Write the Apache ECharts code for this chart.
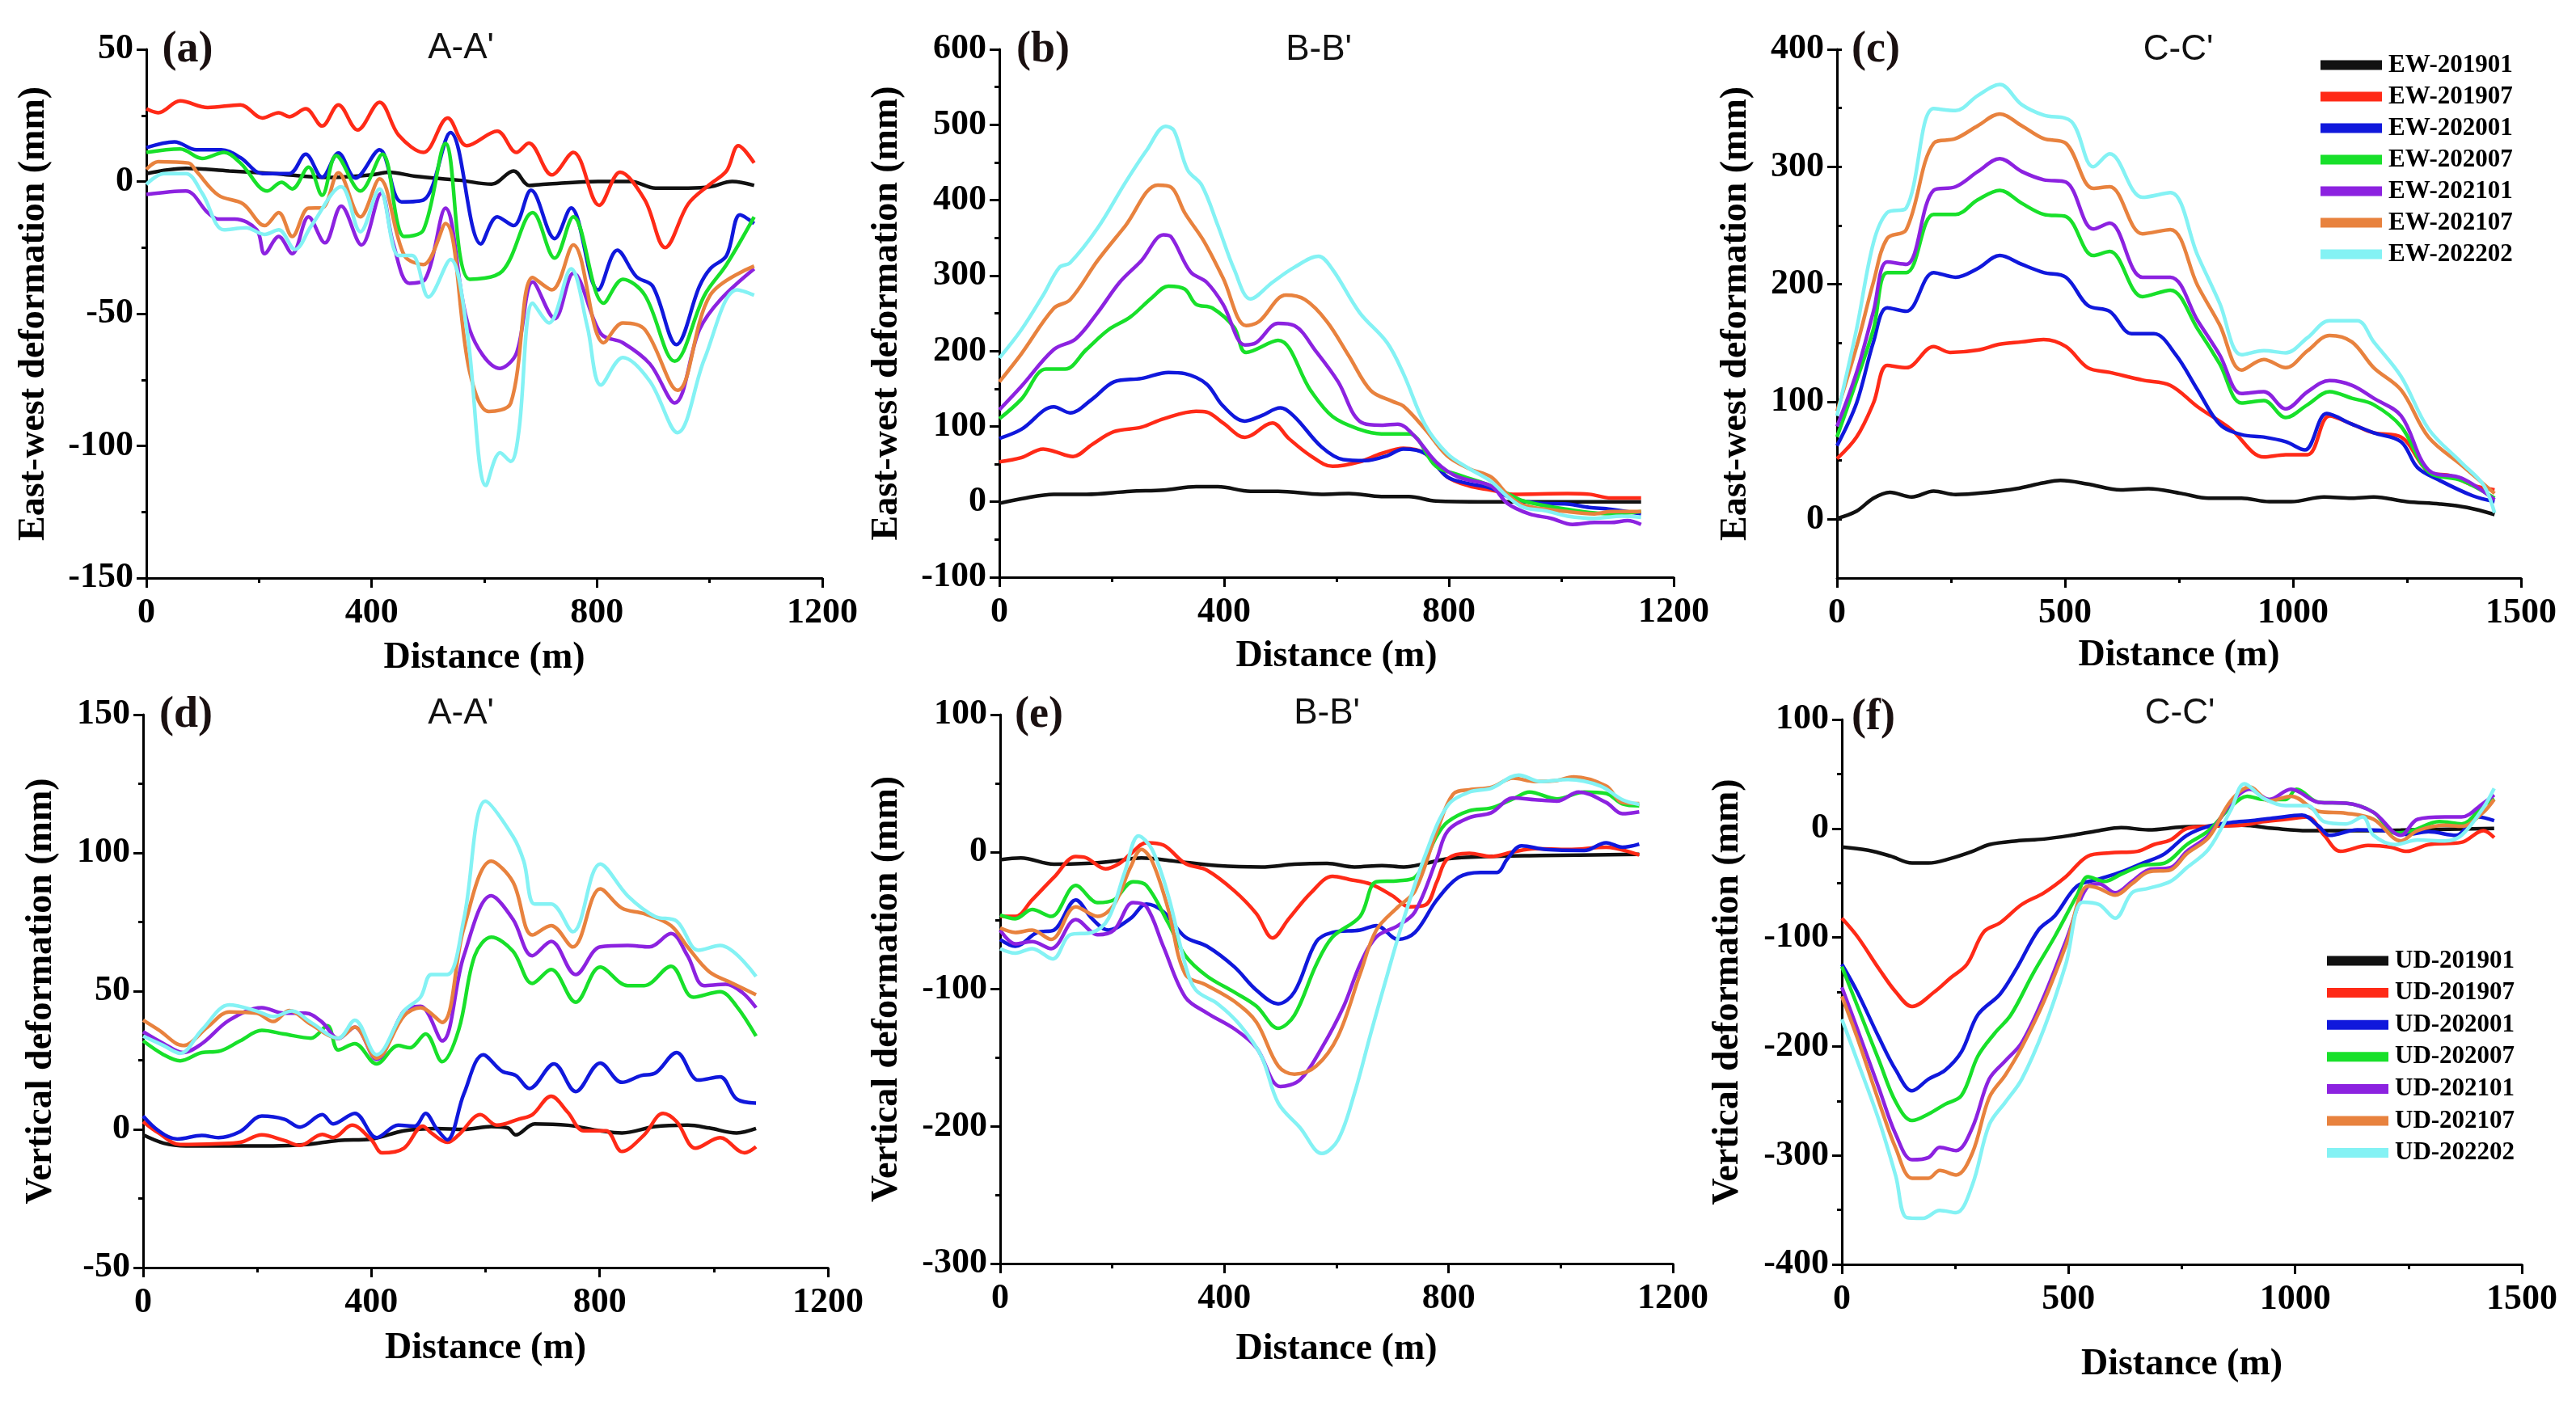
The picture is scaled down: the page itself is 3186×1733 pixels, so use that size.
<!DOCTYPE html>
<html>
<head>
<meta charset="utf-8">
<script src="https://cdn.jsdelivr.net/npm/echarts@6/dist/echarts.min.js"></script>
<style>
html,body{margin:0;padding:0;background:#fff;}
#chart{width:3186px;height:1733px;}
</style>
</head>
<body>
<div id="chart"></div>
<script>
// ---------- series names / colours ----------
const epochs = ['201901','201907','202001','202007','202101','202107','202202'];
const ewNames = epochs.map(e => 'EW-' + e);
const udNames = epochs.map(e => 'UD-' + e);
const lineColors = ['#111111','#ff2a17','#1018dc','#18e02a','#8c22e0','#e8823e','#84f2f4'];

// ---------- panel (a) A-A' east-west ----------
const a_201901 = [[0,3],[70,5],[147,4],[225,3],[322,1.5],[400,2.5],[430,3.5],[477,2],[555,0.5],[613,-1],[652,4],[680,-1.5],[710,-1],[802,0],[860,0],[904,-2.5],[962,-2.5],[1001,-2],[1040,0],[1079,-1.5]];
const a_201907 = [[0,27.5],[21,26],[60,30.5],[109,28],[167,29],[206,24],[235,26],[254,24.5],[283,27.5],[312,21],[341,29],[375,19.5],[414,30],[448,17.5],[492,11],[535,24],[569,13.5],[623,19],[657,11],[679,14.5],[720,2.5],[758,11],[804,-9],[841,3.5],[885,-7],[921,-25],[962,-8.5],[1001,-1],[1030,4],[1051,13.5],[1079,7]];
const a_202001 = [[0,12.8],[50,15],[89,12],[133,12],[167,9],[206,3],[254,3],[283,10.3],[312,1.6],[341,10.8],[371,1.3],[414,12],[453,-7.7],[492,-7],[540,18.5],[594,-23.6],[623,-13.4],[652,-16.7],[683,-3.3],[725,-21.6],[754,-10],[802,-41],[836,-26],[870,-36],[899,-39.6],[941,-61.7],[982,-39.6],[1001,-33],[1030,-28],[1054,-12.6],[1079,-15.9]];
const a_202007 = [[0,11],[60,12.3],[99,8.7],[138,11],[167,7],[215,-3.6],[240,-0.3],[259,-2.8],[288,5.4],[312,-5.2],[337,9.8],[380,-3.6],[419,10.3],[458,-20.8],[492,-18.3],[531,14.4],[574,-37],[632,-33.9],[686,-11.8],[725,-29],[758,-13.4],[812,-46],[846,-37],[885,-43],[938,-68],[991,-43],[1030,-31.4],[1079,-13.4]];
const a_202101 = [[0,-4.9],[70,-3.6],[109,-11.8],[128,-14.2],[157,-14.2],[196,-18.3],[210,-27.3],[235,-20.8],[259,-27.3],[288,-13.4],[317,-23.2],[346,-9.3],[382,-24],[417,-4.4],[438,-23.2],[467,-38.5],[495,-37],[531,-10.1],[574,-56],[628,-70.7],[657,-65],[686,-38],[725,-51.9],[758,-34.7],[807,-57.6],[846,-61],[894,-69],[938,-83.8],[982,-56],[1020,-44.5],[1079,-33]];
const a_202107 = [[0,4.6],[21,7.5],[75,7],[89,3.8],[128,-5.2],[172,-8.5],[210,-16.7],[235,-11.8],[259,-20.8],[288,-10.1],[312,-10],[341,3.3],[380,-13.4],[414,1],[458,-28],[492,-31.4],[531,-15.9],[574,-72],[608,-87],[647,-83.8],[686,-36.3],[720,-41],[758,-24],[812,-61],[846,-53.5],[885,-56],[943,-79],[1001,-43],[1079,-32]];
const a_202202 = [[0,-1.1],[31,3],[70,3],[99,-4.4],[138,-18.3],[177,-17.5],[210,-20],[235,-18.3],[264,-25.7],[293,-16.7],[346,-2],[380,-19],[414,-2.8],[448,-28],[472,-28],[501,-43.7],[540,-29.5],[569,-56],[603,-115],[628,-102.6],[647,-105.9],[661,-95],[686,-46],[715,-53.5],[754,-33],[783,-55],[807,-77],[846,-66.6],[894,-75.6],[943,-95],[991,-67],[1049,-41],[1079,-43]];

// ---------- panel (b) B-B' east-west ----------
const b_201901 = [[0,-2],[39,4],[97,10],[155,10],[233,14],[292,15.5],[350,20],[389,20],[447,14],[496,14],[573,10],[622,11],[680,7],[729,7],[777,1],[865,0],[962,0],[1142,0]];
const b_201907 = [[0,53],[39,58.5],[78,70],[97,67],[131,60],[165,76],[204,93],[253,99],[292,110],[350,120],[369,119],[398,104.5],[437,85.5],[486,104.5],[515,84],[554,61],[593,47],[641,53],[680,64],[719,71],[758,64],[797,33],[836,21],[875,15.5],[914,10],[1011,11],[1050,10],[1088,5],[1142,5]];
const b_202001 = [[0,84],[39,96],[97,126],[126,118],[165,136],[204,159],[253,163.6],[301,171.6],[330,170],[369,156],[398,127],[437,107],[466,114],[500,124.5],[525,113],[573,73],[612,56],[651,54.5],[690,61],[719,70],[758,64],[797,33],[836,24],[875,18],[914,4],[962,-2],[1011,-3],[1050,-7.5],[1088,-10],[1142,-16]];
const b_202007 = [[0,110],[39,136],[83,176],[117,176],[155,202],[194,228],[233,245],[272,271],[301,286],[330,282],[350,262],[379,257],[418,231],[439,198],[496,214],[554,147.5],[593,113],[641,96],[680,90],[729,90],[777,47],[816,36],[865,24],[894,15],[933,1],[1011,-10],[1088,-16],[1142,-13]];
const b_202101 = [[0,122],[39,153],[97,202],[136,216],[175,251],[214,291],[253,320],[292,354],[306,351],[340,305],[369,291],[398,262],[437,208],[457,211],[496,236.5],[525,233.6],[564,199],[603,159],[641,107],[680,101.6],[709,103],[739,87],[777,53],[816,33],[875,21],[904,-2],[943,-16],[982,-22],[1020,-30],[1059,-27.5],[1088,-27.5],[1118,-25],[1142,-30]];
const b_202107 = [[0,159],[39,196],[97,256.6],[126,268],[175,320],[224,365.7],[282,420],[306,417],[330,383],[364,345.6],[398,296.8],[439,233.6],[462,239],[510,274],[544,268],[583,239],[622,193.5],[661,147.5],[700,133],[719,127],[758,96],[797,61],[836,44],[875,33],[904,10],[933,-4.6],[1011,-13],[1059,-16],[1088,-13],[1142,-13]];
const b_202202 = [[0,190.6],[39,228],[78,274],[107,311],[126,317],[175,363],[224,423],[262,466],[296,498],[311,492],[335,440],[360,420],[389,366],[418,308],[447,269],[486,291],[525,311],[568,325.5],[593,308],[641,251],[690,211],[719,170],[758,101.6],[797,64],[836,44],[875,27],[904,7],[933,-7.5],[972,-12],[1011,-19],[1059,-22],[1108,-19],[1142,-20.6]];

// ---------- panel (c) C-C' east-west ----------
const c_201901 = [[0,0.7],[43,7],[80,18],[116,23],[164,19],[212,24],[260,21],[333,23],[393,26],[453,31],[490,33],[550,30],[622,25],[683,26],[755,22],[815,18],[887,18],[948,15],[996,15],[1068,19],[1129,18],[1177,19],[1249,15],[1322,13],[1382,10],[1442,4]];
const c_201907 = [[0,51.5],[43,70],[80,99],[110,131],[152,129],[212,147],[248,142],[309,144],[357,149],[405,151],[453,153],[502,147],[550,129],[598,125],[670,118.5],[731,114],[791,95.7],[863,77],[936,53],[984,55],[1032,55],[1080,88],[1129,81],[1177,73.6],[1237,70],[1297,40.5],[1346,37],[1394,29],[1442,25]];
const c_202001 = [[0,62.6],[43,99],[80,151],[110,180],[152,177],[212,210],[260,206],[309,213.5],[357,224.5],[405,217],[453,210],[502,206],[550,182],[598,177],[646,158],[695,158],[743,140],[791,110],[839,81],[887,72],[936,70],[984,66],[1026,59],[1074,90],[1129,81],[1177,73.6],[1237,66],[1273,44],[1322,33],[1394,20],[1442,15]];
const c_202007 = [[0,70],[43,118],[80,162],[110,210],[152,210],[212,259.5],[260,259.5],[309,272],[357,280],[405,269],[453,259.5],[502,257.6],[562,224.5],[598,228],[670,189.5],[731,195],[791,162],[839,132.5],[887,99],[936,101],[984,86.5],[1032,97.5],[1080,108.6],[1129,103],[1177,97.5],[1237,79],[1297,40.5],[1370,33],[1442,18]];
const c_202101 = [[0,79],[43,125],[80,177],[110,219],[152,217],[212,280],[260,283],[309,296],[357,307],[405,296],[453,289],[502,287],[562,247],[598,252],[670,206],[731,206],[791,169],[839,140],[887,107],[936,108.6],[984,94],[1032,108.6],[1080,118],[1129,114],[1177,103],[1237,88],[1297,42],[1370,35],[1442,16.5]];
const c_202107 = [[0,92],[43,147],[80,202],[110,239],[152,246.6],[212,320],[260,324],[309,335],[357,345],[405,335],[453,324],[502,320],[562,281.6],[598,283],[670,243],[731,246.6],[791,198.7],[839,165.6],[887,127],[936,136],[984,129],[1032,143.5],[1080,156.4],[1129,151],[1177,129],[1237,110],[1297,70],[1370,46],[1442,22]];
const c_202202 = [[0,88],[43,162],[80,235.5],[110,261],[152,265],[212,349.6],[260,347.8],[309,360.7],[357,370],[405,353],[453,344],[514,338.6],[562,300],[598,311],[670,274],[731,278],[791,224.5],[839,184],[887,140],[936,143.5],[984,141.7],[1032,154.6],[1080,169],[1141,169],[1177,151],[1237,121.5],[1297,77],[1370,48],[1418,29],[1442,5.5]];

// ---------- panel (d) A-A' vertical ----------
const d_201901 = [[0,-2],[36,-5],[75,-6],[151,-6],[228,-6],[285,-5.5],[342,-4],[400,-3.5],[457,-0.5],[514,0.3],[562,0],[610,1],[639,0.5],[653,-2],[686,2],[744,1.5],[801,-0.5],[839,-1.3],[897,1],[954,1.5],[992,0.5],[1040,-1.3],[1074,0.3]];
const d_201907 = [[0,2.8],[27,-1.3],[65,-5.5],[132,-5.2],[170,-4.7],[208,-2],[247,-4],[275,-5.8],[314,-1.8],[333,-3],[366,1.5],[400,-3.8],[419,-8.5],[457,-6.8],[490,1.2],[505,-1.3],[533,-4.7],[553,-2],[591,5.3],[620,1.5],[658,3.7],[682,5.3],[715,12],[744,6.2],[772,-0.5],[811,-0.5],[839,-8],[878,-2],[911,5.8],[935,2.8],[968,-6.8],[1011,-3],[1054,-8.5],[1074,-6.3]];
const d_202001 = [[0,4.8],[27,-0.5],[60,-3.5],[103,-2.2],[132,-3],[170,-0.8],[208,4.8],[247,3.7],[275,0.8],[314,5.3],[333,2],[371,5.8],[409,-3],[447,1.5],[476,1.2],[495,5.8],[514,0.3],[533,-3.8],[562,12.8],[596,27],[629,21],[653,19.5],[677,14.8],[720,23.7],[758,13.7],[801,24],[839,17],[873,19.5],[897,20.3],[935,27.8],[973,17.8],[1011,19],[1040,11],[1074,9.5]];
const d_202007 = [[0,32],[36,27],[65,24.8],[103,27.8],[132,28.2],[170,32],[208,35.8],[247,34.5],[294,33],[323,37.5],[342,28.7],[371,31],[409,23.7],[447,30.3],[467,29.5],[495,34.5],[524,24.5],[553,36],[581,62.8],[610,69.5],[648,64.5],[682,52.8],[715,57.8],[758,46],[801,58.7],[849,52],[878,52],[925,59],[964,47.8],[1011,49.8],[1040,44.5],[1074,33.7]];
const d_202101 = [[0,35.3],[36,31],[70,27.8],[103,31],[151,39.5],[208,44],[247,42],[285,42],[314,38.7],[342,32.8],[371,37],[409,25.3],[457,42.8],[486,44.5],[524,32],[562,62.8],[610,84.5],[648,76],[682,62.8],[715,68],[758,56],[801,66],[849,66.5],[887,66],[925,70.8],[954,62.8],[983,52],[1021,52.5],[1050,49.5],[1074,44]];
const d_202107 = [[0,39.5],[27,36],[70,30.3],[113,37],[151,42.5],[199,42],[228,39],[256,43],[294,38],[342,33],[371,37],[409,25.8],[457,41],[486,44],[524,38.7],[562,72.8],[610,97],[648,89.5],[682,70.3],[715,73.7],[753,66],[801,87],[839,80],[878,78],[925,73.7],[954,66],[992,57],[1031,53],[1074,48.7]];
const d_202202 = [[0,33.7],[36,30.3],[65,27.5],[103,36],[151,45],[199,42.8],[228,40.8],[261,42.8],[294,38.7],[342,33],[371,39.5],[409,27],[457,42.8],[486,47.8],[505,56],[533,56],[562,76],[600,118.7],[648,106],[667,97],[686,81.5],[715,81.5],[753,71.5],[801,96],[849,84.5],[897,77],[935,75.3],[973,64.8],[1011,66.5],[1074,55.3]];

// ---------- panel (e) B-B' vertical ----------
const e_201901 = [[0,-5.7],[37,-4.4],[96,-9],[154,-8.4],[203,-6.7],[252,-4.4],[310,-6.7],[388,-10],[466,-11],[525,-9],[583,-8.4],[632,-11],[681,-10],[720,-11],[759,-8.4],[798,-5],[866,-3.4],[964,-2.7],[1140,-1.7]];
const e_201907 = [[0,-47],[27,-47],[57,-35],[96,-18.5],[135,-3.4],[154,-4.4],[188,-12.4],[213,-8.4],[232,-1.7],[261,6.7],[291,5],[330,-8.4],[369,-13.4],[418,-28.5],[457,-45],[486,-62.7],[515,-48.7],[554,-30],[593,-17.8],[622,-20],[661,-23.5],[700,-32],[730,-40],[759,-38.6],[779,-21.8],[798,-5],[837,-1],[876,-3.4],[915,0],[954,2.3],[1013,1.7],[1081,3.4],[1140,-2.3]];
const e_202001 = [[0,-63.8],[27,-68.8],[66,-58.7],[96,-57],[135,-35],[164,-48.7],[193,-57],[232,-48.7],[261,-38],[291,-43.6],[330,-62],[369,-68.8],[418,-83.9],[457,-100.7],[496,-110.7],[525,-102],[564,-65.4],[593,-58.7],[642,-57],[671,-53.7],[710,-63.8],[740,-58.7],[779,-35],[818,-18.5],[857,-15],[886,-15],[905,-5],[930,4.4],[974,1.7],[1042,1],[1081,6.7],[1110,3.4],[1140,5.7]];
const e_202007 = [[0,-46],[27,-48.7],[57,-42],[91,-47],[135,-24.5],[174,-37],[203,-35],[237,-21.8],[261,-24.5],[300,-52],[330,-75.5],[369,-90.6],[418,-102.3],[457,-112.4],[496,-128.5],[525,-119],[564,-82],[593,-62],[642,-47],[671,-21.8],[710,-21],[740,-18.5],[779,11.7],[798,21.8],[837,30],[876,32],[915,38.6],[944,43.6],[993,38.6],[1042,43.6],[1081,42.6],[1110,35],[1140,33.6]];
const e_202101 = [[0,-57],[27,-67],[57,-65.4],[91,-70.5],[135,-49.3],[174,-60.4],[203,-57],[237,-37],[261,-40],[291,-68.8],[330,-105.7],[369,-117.4],[418,-129],[457,-142.6],[500,-171],[535,-166],[574,-142.6],[613,-112.4],[642,-82],[671,-62],[710,-53.7],[740,-43.6],[779,-5],[798,15],[837,25],[876,28.5],[915,39.3],[954,38],[993,37],[1032,43.6],[1081,36],[1110,27.8],[1140,29.2]];
const e_202107 = [[0,-55.4],[27,-58.7],[57,-57],[91,-63.8],[135,-40],[174,-47],[203,-38.6],[232,-11.7],[252,1.7],[271,-6.7],[300,-42],[330,-89],[369,-97.3],[418,-109],[457,-124],[496,-156],[525,-162],[564,-156],[603,-134],[642,-89],[671,-57],[710,-40],[740,-28.5],[779,15],[808,42],[837,45.3],[876,47],[915,53.7],[954,51.3],[993,52],[1023,54.7],[1081,48],[1110,36],[1140,35.2]];
const e_202202 = [[0,-70.5],[27,-73.8],[57,-70.5],[94,-78],[125,-60.4],[164,-58.7],[193,-48.7],[222,-15],[247,11.7],[271,1.7],[300,-32],[330,-82],[349,-100.7],[388,-110.7],[427,-125.8],[466,-149],[496,-183],[535,-201],[574,-219.8],[603,-209.7],[632,-176],[661,-132.5],[691,-89],[720,-48.7],[759,-1.7],[798,33.6],[837,43.6],[876,46.3],[925,56],[964,51.3],[1013,52.7],[1071,48],[1110,38],[1140,34.6]];

// ---------- panel (f) C-C' vertical ----------
const f_201901 = [[0,-17],[58,-20],[107,-25.3],[155,-31.7],[191,-31.7],[240,-27.5],[288,-21],[325,-14.8],[385,-11.4],[446,-9.7],[506,-6.3],[567,-2],[616,0.8],[676,-1.3],[749,1.3],[809,2],[882,3],[955,0],[1027,-2],[1112,-2],[1233,-1.5],[1439,0]];
const f_201907 = [[0,-82.3],[34,-99],[82,-128.8],[119,-150],[155,-163.4],[204,-150],[240,-137],[276,-124.6],[313,-95],[349,-86.6],[397,-69.7],[446,-59],[494,-44.3],[543,-25.3],[591,-22.4],[652,-21],[688,-14.8],[725,-10.6],[761,0],[809,2],[882,3],[931,6.3],[979,8.4],[1027,10.6],[1064,-6.3],[1100,-21],[1161,-15.6],[1209,-17],[1246,-21],[1294,-14.8],[1367,-12.7],[1415,-2],[1439,-8.4]];
const f_202001 = [[0,-124.6],[34,-150],[82,-192],[119,-221.7],[155,-240.7],[191,-230],[228,-221.7],[264,-204.8],[300,-171],[349,-152],[385,-128.8],[434,-93],[470,-80],[519,-52.8],[567,-46.5],[616,-40],[664,-31.7],[712,-23.2],[761,-6.3],[809,2],[858,5.5],[906,7.2],[955,9.7],[1015,12.2],[1052,2],[1076,-6.3],[1137,-1.3],[1197,-2],[1246,-5.5],[1294,-3],[1355,-6.3],[1403,10.6],[1439,7.2]];
const f_202007 = [[0,-126.7],[34,-162.6],[82,-213],[119,-251],[155,-268],[191,-262],[228,-253],[264,-245],[300,-209],[337,-188],[373,-171],[422,-133],[470,-99],[519,-61],[543,-44.3],[579,-48.6],[616,-42],[664,-33.8],[712,-31.7],[761,-14.8],[809,-2],[858,19.8],[894,29.6],[931,26.6],[979,26.6],[1003,36],[1052,24],[1112,23.2],[1173,14.8],[1221,-4.2],[1258,-2],[1318,6.3],[1367,4.2],[1415,21],[1439,27.5]];
const f_202101 = [[0,-145.7],[34,-183.7],[82,-238.6],[119,-280.8],[155,-304],[191,-302],[216,-292.6],[252,-295.6],[288,-274.5],[325,-230],[361,-213],[397,-196.4],[446,-154],[494,-103.5],[543,-52.8],[567,-50.7],[603,-59],[640,-48.6],[676,-38],[725,-35.9],[761,-21],[809,-6.3],[858,23.2],[900,36],[943,26.6],[991,36],[1052,24],[1112,23.2],[1173,14.8],[1233,-6.3],[1270,8.4],[1330,10.6],[1367,10.6],[1415,23.2],[1439,30.8]];
const f_202107 = [[0,-154],[34,-192],[82,-251],[119,-293.5],[155,-321],[191,-321],[216,-313.8],[252,-318],[288,-297.7],[325,-247],[361,-226],[397,-200.6],[446,-158.4],[494,-107.7],[543,-52.8],[567,-55],[603,-61.2],[640,-50.7],[676,-40],[725,-38],[761,-23.2],[809,-8.4],[858,25.3],[900,38],[943,25.3],[991,29.6],[1052,15.6],[1112,14],[1173,8.4],[1233,-11.4],[1270,-2],[1330,3],[1367,2],[1415,14.8],[1439,26.6]];
const f_202202 = [[0,-175],[34,-213],[82,-268],[119,-319],[143,-357],[179,-357.7],[216,-350.5],[252,-352.6],[288,-327],[325,-272],[361,-251],[397,-230],[446,-183.7],[494,-124.6],[531,-67.6],[567,-69.7],[603,-82.3],[640,-59],[676,-55],[725,-48.6],[761,-36],[809,-19],[858,16.9],[888,41],[931,27.5],[979,21],[1027,21],[1064,6.3],[1112,4.2],[1149,10.6],[1173,-6.3],[1221,-14.8],[1270,-10.6],[1330,-11.4],[1367,-6.3],[1415,19],[1439,36.7]];

// ---------- axis ranges / labels ----------
const panelLetters = ['(a)','(b)','(c)','(d)','(e)','(f)'];
const panelTitles = ["A-A'","B-B'","C-C'","A-A'","B-B'","C-C'"];
const xMax = [1200,1200,1500,1200,1200,1500];
const xInterval = [400,400,500,400,400,500];
const yMin = [-150,-100,-50,-50,-300,-400];
const yMax = [50,600,400,150,100,100];
const yInterval = [50,100,100,50,100,100];
const yLabelValuesC = [0,100,200,300,400];
const ewAxisName = 'East-west deformation (mm)';
const udAxisName = 'Vertical deformation (mm)';
const xAxisName = 'Distance (m)';

const panelData = [
  [a_201901,a_201907,a_202001,a_202007,a_202101,a_202107,a_202202],
  [b_201901,b_201907,b_202001,b_202007,b_202101,b_202107,b_202202],
  [c_201901,c_201907,c_202001,c_202007,c_202101,c_202107,c_202202],
  [d_201901,d_201907,d_202001,d_202007,d_202101,d_202107,d_202202],
  [e_201901,e_201907,e_202001,e_202007,e_202101,e_202107,e_202202],
  [f_201901,f_201907,f_202001,f_202007,f_202101,f_202107,f_202202]
];

// ---------- layout (pixels) ----------
const grids = [
  {left:181, top:61, width:836, height:654},
  {left:1236, top:61, width:834, height:653},
  {left:2272, top:61, width:846, height:654},
  {left:177, top:884, width:847, height:684},
  {left:1237, top:884, width:832, height:679},
  {left:2278, top:890, width:841, height:674}
];
const yNameGap = [116,116,102,103,117,118];
const xNameGap = [76,75,73,77,83,101];
const letterPos = [[232,62],[1290,62],[2320,62],[230,885],[1285,885],[2317,888]];
const titlePos = [[570,60],[1631,62],[2694,62],[570,883],[1641,883],[2696,883]];

const serif = 'Liberation Serif, Times New Roman, serif';
const sans = 'Liberation Sans, Arial, sans-serif';
const black = '#000';
const plain = v => String(v);

const chart = echarts.init(document.getElementById('chart'), null, {renderer:'canvas', width:3186, height:1733});

const xAxes = [], yAxes = [], series = [], graphics = [];
for (let i = 0; i < 6; i++) {
  xAxes.push({
    type:'value', gridIndex:i, min:0, max:xMax[i], interval:xInterval[i],
    name:xAxisName, nameLocation:'middle', nameGap:xNameGap[i],
    nameTextStyle:{fontFamily:serif, fontWeight:'bold', fontSize:46, color:black},
    axisLine:{show:true, onZero:false, lineStyle:{color:black, width:3}},
    axisTick:{show:true, inside:false, length:12, lineStyle:{color:black, width:3}},
    minorTick:{show:true, splitNumber:2, length:6, lineStyle:{color:black, width:3}},
    axisLabel:{fontFamily:serif, fontWeight:'bold', fontSize:44, color:black, margin:22, formatter:plain},
    splitLine:{show:false}
  });
  const y = {
    type:'value', gridIndex:i, min:yMin[i], max:yMax[i], interval:yInterval[i],
    name: i < 3 ? ewAxisName : udAxisName, nameLocation:'middle', nameGap:yNameGap[i],
    nameTextStyle:{fontFamily:serif, fontWeight:'bold', fontSize:46, color:black},
    axisLine:{show:true, onZero:false, lineStyle:{color:black, width:3}},
    axisTick:{show:true, inside:false, length:12, lineStyle:{color:black, width:3}},
    minorTick:{show:true, splitNumber:2, length:6, lineStyle:{color:black, width:3}},
    axisLabel:{fontFamily:serif, fontWeight:'bold', fontSize:44, color:black, margin:16, formatter:plain},
    splitLine:{show:false}
  };
  if (i === 2) {
    y.interval = 50;
    y.minorTick = {show:false};
    y.axisTick = Object.assign({}, y.axisTick, {customValues:yLabelValuesC});
    y.axisLabel = Object.assign({}, y.axisLabel, {customValues:yLabelValuesC,
      formatter: v => (v % 100 === 0 ? String(v) : '')});
  }
  yAxes.push(y);

  panelData[i].forEach((d, k) => {
    series.push({
      type:'line', name:(i < 3 ? ewNames : udNames)[k],
      xAxisIndex:i, yAxisIndex:i, data:d,
      smooth:0.35, symbol:'none', clip:true,
      color:lineColors[k],
      lineStyle:{width:4.5, color:lineColors[k]},
      z: 2 + k
    });
  });

  graphics.push({type:'text', x:letterPos[i][0], y:letterPos[i][1],
    style:{text:panelLetters[i], font:'bold 54px ' + serif, fill:'#1a1010', textAlign:'center', textVerticalAlign:'middle'}});
  graphics.push({type:'text', x:titlePos[i][0], y:titlePos[i][1],
    style:{text:panelTitles[i], font:'44px ' + sans, fill:'#111', textAlign:'center', textVerticalAlign:'middle'}});
}
// minor ticks for panel (c) y axis (every 50 mm)
yAxes.push({
  type:'value', gridIndex:2, min:yMin[2], max:yMax[2], interval:50,
  axisLine:{show:false}, axisLabel:{show:false}, splitLine:{show:false},
  axisTick:{show:true, inside:false, length:6, lineStyle:{color:black, width:3}}
});

const legendText = {fontFamily:serif, fontWeight:'bold', fontSize:31, color:black, lineHeight:31, padding:[0,0,0,3]};

chart.setOption({
  backgroundColor:'#ffffff',
  animation:false,
  grid:grids,
  xAxis:xAxes,
  yAxis:yAxes,
  series:series,
  graphic:graphics,
  legend:[
    {data:ewNames, orient:'vertical', left:2865, top:60, itemWidth:76, itemHeight:12, itemGap:8,
     icon:'rect', textStyle:legendText, selectedMode:false},
    {data:udNames, orient:'vertical', left:2873, top:1168, itemWidth:76, itemHeight:12, itemGap:8.6,
     icon:'rect', textStyle:legendText, selectedMode:false}
  ]
});
</script>
</body>
</html>
